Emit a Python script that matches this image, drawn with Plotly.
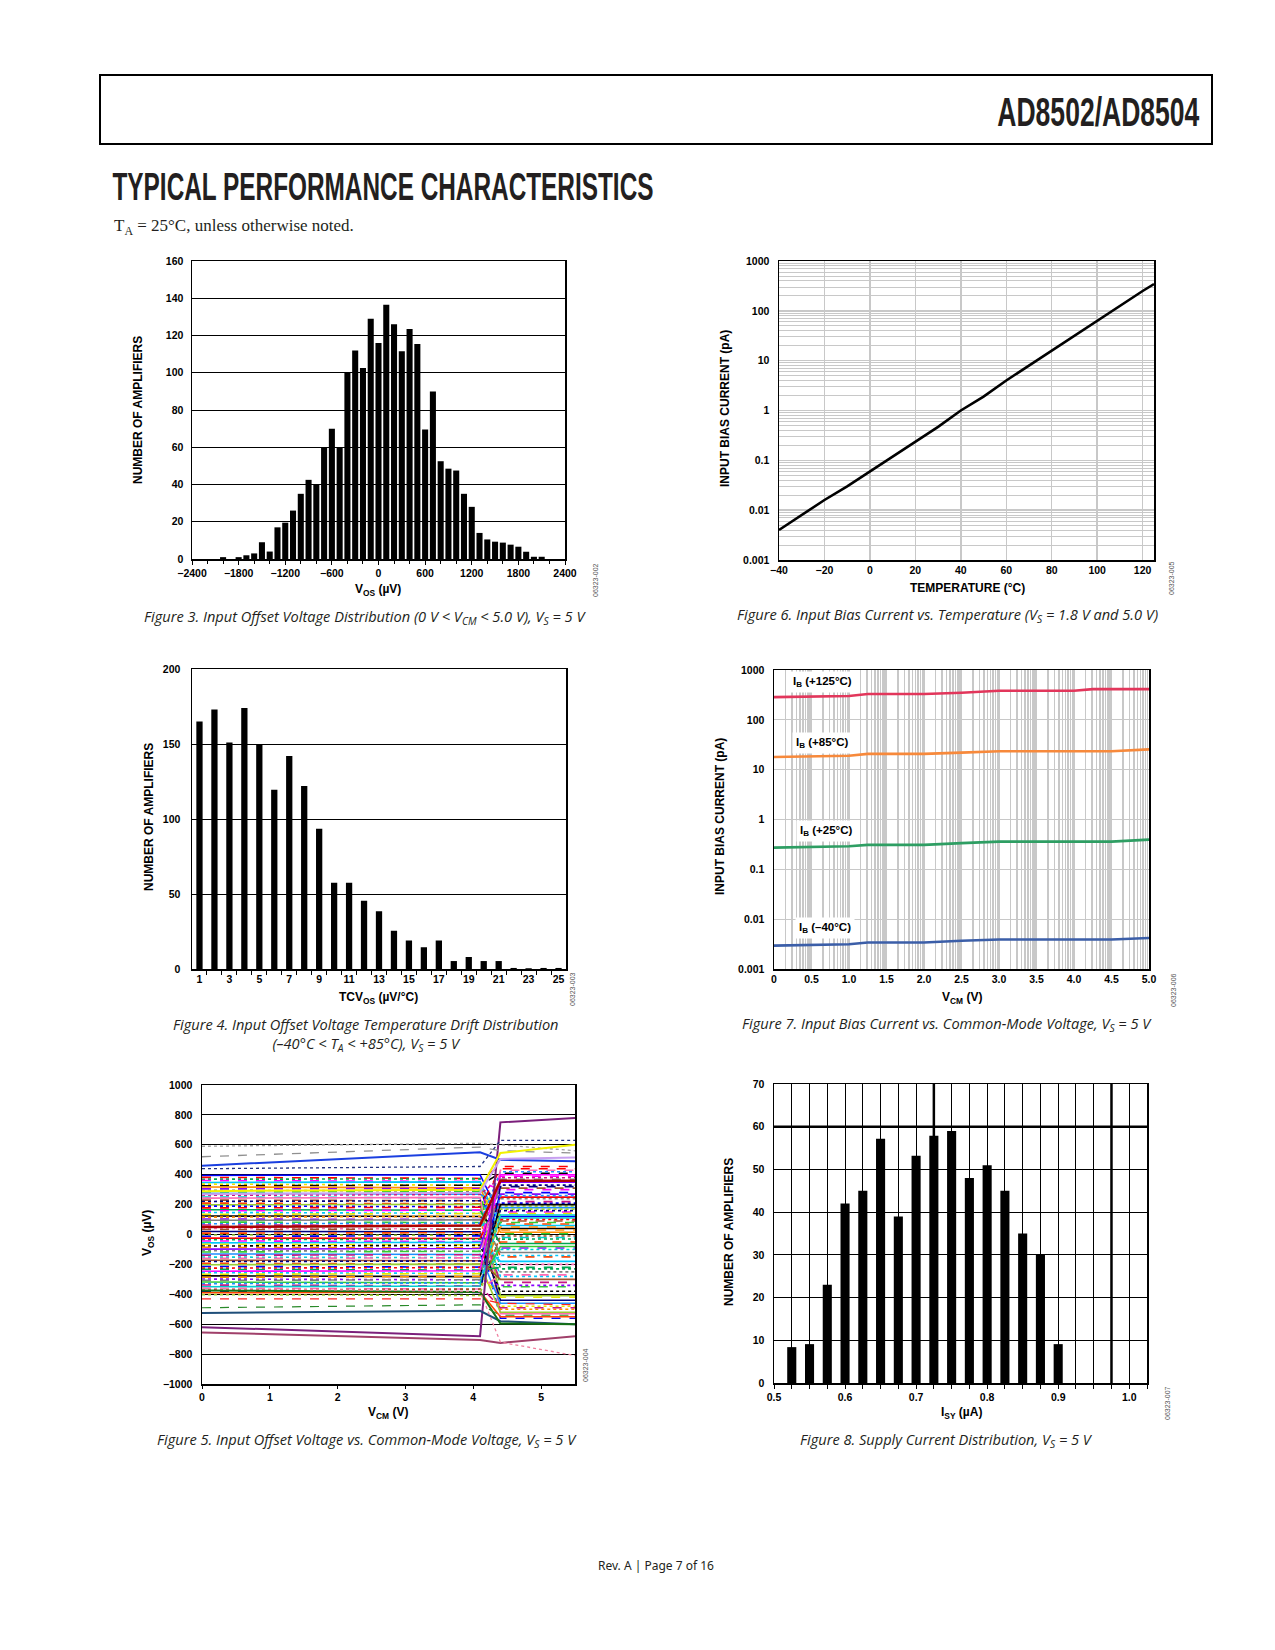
import math
import plotly.graph_objects as go

W, H = 1275, 1650
def PX(x): return x / W
def PY(y): return 1 - y / H

# ---------------- data ----------------
# Figure 3: input offset voltage histogram
VOS_BINS = [-2000, -1900, -1800, -1700, -1600, -1500, -1400, -1300, -1200, -1100, -1000, -900, -800, -700,
            -600, -500, -400, -300, -200, -100, 0, 100, 200, 300, 400, 500, 600, 700, 800, 900, 1000, 1100,
            1200, 1300, 1400, 1500, 1600, 1700, 1800, 1900, 2000, 2100]
VOS_COUNT = [1, 0, 1, 2, 3, 9, 4, 17, 19.5, 26, 35, 42.5, 40, 60, 70, 60, 100, 112, 102.5, 129, 116, 136.5,
             126, 111.5, 123.5, 115.5, 69.5, 90, 52.5, 48.5, 47.5, 35, 28, 14, 10.5, 9.3, 8.8, 7.7, 6.6, 3.9, 1.2, 1.2]
VOS_TICKS = [-2400, -1800, -1200, -600, 0, 600, 1200, 1800, 2400]

# Figure 6: input bias current vs temperature
TEMP = [-40, -30, -20, -10, 0, 10, 20, 30, 40, 50, 60, 70, 80, 90, 100, 110, 120, 125]
IB_T = [0.0040, 0.0080, 0.016, 0.030, 0.060, 0.12, 0.24, 0.47, 1.0, 1.9, 4.0, 8.0, 16, 32, 65, 125, 250, 345]
TEMP_TICKS = [-40, -20, 0, 20, 40, 60, 80, 100, 120]
LOG_TICKS = [0.001, 0.01, 0.1, 1, 10, 100, 1000]
LOG_TEXT = ["0.001", "0.01", "0.1", "1", "10", "100", "1000"]

# Figure 4: TCVos histogram
TC_BINS = list(range(1, 26))
TC_COUNT = [165, 173, 151, 174, 150, 119.5, 142, 122, 93.5, 57.5, 57.5, 45.5, 38.5, 25.5, 19, 14.5, 19,
            5.3, 8, 5.3, 5.3, 0.7, 0.5, 0.7, 0.7]
TC_TICKS = [1, 3, 5, 7, 9, 11, 13, 15, 17, 19, 21, 23, 25]

# Figure 7: input bias current vs common-mode voltage
VCM_IB = [0, 1.0, 1.25, 2.0, 2.5, 3.0, 4.0, 4.25, 4.5, 5.0]
IB_125 = [286, 300, 330, 330, 350, 384, 384, 414, 414, 414]
IB_85 = [18, 19, 20.7, 20.7, 22, 23.4, 23.4, 23.4, 23.4, 25.5]
IB_25 = [0.273, 0.29, 0.31, 0.31, 0.335, 0.36, 0.36, 0.36, 0.36, 0.395]
IB_M40 = [0.00295, 0.00314, 0.0034, 0.0034, 0.0037, 0.0039, 0.0039, 0.0039, 0.0039, 0.0042]
VCM_TICKS = [0, 0.5, 1.0, 1.5, 2.0, 2.5, 3.0, 3.5, 4.0, 4.5, 5.0]
VCM_TEXT = ["0", "0.5", "1.0", "1.5", "2.0", "2.5", "3.0", "3.5", "4.0", "4.5", "5.0"]

# Figure 5: Vos vs Vcm (many units); values at VCM = 0, 4.1, 4.4, 5.5 V
VCM_PTS = [0, 4.1, 4.4, 5.5]
SPECIAL_Y = [
    [-620, -680, 750, 780],
    [-655, -705, -725, -680],
    [460, 550, 500, 490],
    [-525, -510, -580, -600],
    [-375, -385, -595, -600],
    [520, 585, 560, 545],
    [590, 610, 600, 560],
    [440, 455, 630, 630],
    [290, 300, 545, 600],
    [-360, -380, -720, -810],
    [50, 60, 360, 360],
    [270, 280, 505, 515],
    [-490, -470, -540, -540],
    [-430, -430, -460, -470],
]
G0 = [395, 382, 370, 361, 348, 337, 326, 318, 305, 296, 284, 275, 262, 251, 243, 230, 221, 210, 198, 190,
      178, 166, 158, 147, 135, 124, 116, 104, 95, 83, 72, 64, 52, 41, 33, 20, 9, -3, -12, -24, -35, -43,
      -56, -65, -77, -86, -98, -108, -117, -130, -139, -151, -160, -172, -181, -193, -202, -214, -225, -233,
      -246, -255, -266, -277, -286, -298, -307, -318, -329, -338, -350, -359, -371, -382, -390, -402]
G41 = [400, 375, 372, 355, 352, 330, 330, 312, 308, 290, 288, 270, 268, 245, 248, 226, 226, 205, 202, 186,
       182, 162, 163, 142, 140, 120, 121, 100, 99, 80, 76, 60, 57, 38, 36, 18, 12, -6, -9, -27, -31, -47,
       -52, -69, -73, -90, -94, -112, -113, -134, -135, -155, -156, -176, -177, -197, -198, -218, -221, -238,
       -242, -260, -262, -282, -281, -303, -302, -323, -324, -344, -344, -365, -365, -388, -384, -408]
G55 = [120, 455, -230, 300, 60, -480, 410, 15, -90, 240, -350, 180, 380, -20, -530, 90, 330, -150, -410, 210,
       440, -60, 150, -280, 360, 40, -500, 270, -120, 5, 420, -320, 110, -200, 310, -440, 70, 190, -560, 250,
       -30, 390, -180, 140, -380, 30, 350, -250, 80, -460, 220, -100, 430, -300, 160, -50, -520, 280, 100, -220,
       400, -140, -420, 200, 50, -340, 370, -80, 260, -490, 130, -270, -10, 320, -550, 170]
VOS5_TICKS = [-1000, -800, -600, -400, -200, 0, 200, 400, 600, 800, 1000]

# Figure 8: supply current histogram
ISY_BINS = [0.525, 0.55, 0.575, 0.6, 0.625, 0.65, 0.675, 0.7, 0.725, 0.75, 0.775, 0.8, 0.825, 0.85, 0.875, 0.9]
ISY_COUNT = [8.4, 9.1, 23, 42, 45, 57.2, 39, 53.2, 57.9, 59, 48, 51, 45, 35, 30, 9.1]
ISY_TICKS = [0.5, 0.6, 0.7, 0.8, 0.9, 1.0]
ISY_TEXT = ["0.5", "0.6", "0.7", "0.8", "0.9", "1.0"]
ISY_MINOR = [0.525, 0.55, 0.575, 0.625, 0.65, 0.675, 0.725, 0.75, 0.775, 0.825, 0.85, 0.875,
             0.925, 0.95, 0.975, 1.025]
THICK_GRID_X = [0.725, 0.975]
THICK_GRID_Y = [60]

# ---------------- styles ----------------
TICKFONT = dict(family="Liberation Sans, Arial, sans-serif", size=10.5, color="black", weight="bold")
TITLEFONT = dict(family="Liberation Sans, Arial, sans-serif", size=12, color="black", weight="bold")
CAPFONT = dict(family="Open Sans, sans-serif", size=14.6, color="#231f20", style="italic")
GRAY = "#c8c8c8"
PALETTE = ["#0000ff", "#ff0000", "#00a651", "#ff00ff", "#00c8ff", "#e6e600", "#000000", "#ff8c00",
           "#8b00ff", "#808080", "#32cd32", "#1e90ff", "#c71585", "#00ced1", "#ff69b4", "#a0522d",
           "#000080", "#ff4500", "#9acd32"]
DASHES = ["solid", "dash", "dot", "dash", "solid", "dot", "dash"]
SPECIAL_STYLE = [("#7b1f7b", "solid", 2), ("#a0406a", "solid", 2), ("#1a3fe0", "solid", 2),
                 ("#1f4e79", "solid", 2), ("#157015", "solid", 2), ("#909090", "dash", 1.3),
                 ("#a0a0a0", "dot", 1.3), ("#203080", "dot", 1.3), ("#f2f200", "solid", 2),
                 ("#f080a0", "dot", 1.3), ("#b00000", "solid", 2.5), ("#c8a0f0", "solid", 2),
                 ("#2a8a2a", "dash", 1.2), ("#ff2020", "dash", 1.2)]


def dom(x0, x1, y0, y1):
    return [PX(x0), PX(x1)], [PY(y1), PY(y0)]


def base_axis(**kw):
    d = dict(showline=True, linecolor="black", linewidth=1.5, mirror=True, tickfont=TICKFONT,
             zeroline=False, showgrid=False, ticks="", fixedrange=True, automargin=False)
    d.update(kw)
    return d


fig = go.Figure()

# Figure 3
fig.add_trace(go.Bar(x=VOS_BINS, y=VOS_COUNT, width=78, marker=dict(color="black", line=dict(width=0)),
                     xaxis="x", yaxis="y"))
# Figure 6
fig.add_trace(go.Scatter(x=TEMP, y=IB_T, mode="lines", line=dict(color="black", width=2.6),
                         xaxis="x2", yaxis="y2"))
# Figure 4
fig.add_trace(go.Bar(x=TC_BINS, y=TC_COUNT, width=0.42, marker=dict(color="black", line=dict(width=0)),
                     xaxis="x3", yaxis="y3"))
# Figure 7
for ys, col in [(IB_125, "#e2365b"), (IB_85, "#f7893b"), (IB_25, "#2e9e63"), (IB_M40, "#3b5ea8")]:
    fig.add_trace(go.Scatter(x=VCM_IB, y=ys, mode="lines", line=dict(color=col, width=2.6),
                             xaxis="x4", yaxis="y4"))
# Figure 5
for i in range(len(G0)):
    fig.add_trace(go.Scatter(x=VCM_PTS, y=[G0[i], G41[i], G55[i], G55[i]], mode="lines",
                             line=dict(color=PALETTE[i % len(PALETTE)], dash=DASHES[i % len(DASHES)], width=1.6),
                             xaxis="x5", yaxis="y5"))
for ys, (col, dsh, wd) in zip(SPECIAL_Y, SPECIAL_STYLE):
    fig.add_trace(go.Scatter(x=VCM_PTS, y=ys, mode="lines", line=dict(color=col, dash=dsh, width=wd),
                             xaxis="x5", yaxis="y5"))
# Figure 8
fig.add_trace(go.Bar(x=ISY_BINS, y=ISY_COUNT, width=0.0128, marker=dict(color="black", line=dict(width=0)),
                     xaxis="x6", yaxis="y6"))

d3x, d3y = dom(192, 565, 261, 559)
d6x, d6y = dom(779, 1154, 261, 560)
d4x, d4y = dom(192, 566, 669, 969)
d7x, d7y = dom(774, 1149, 670, 969)
d5x, d5y = dom(202, 575, 1085, 1384)
d8x, d8y = dom(774, 1147, 1084, 1383)

minor_log = [k * 10 ** e for e in range(-3, 3) for k in range(2, 10)]
minor_vcm = [0.5 * (i + math.log10(k)) for i in range(10) for k in range(2, 10)]

fig.update_layout(
    template="none",
    width=W, height=H, autosize=False,
    margin=dict(l=0, r=0, t=0, b=0, pad=0, autoexpand=False),
    paper_bgcolor="white", plot_bgcolor="white",
    showlegend=False, barmode="overlay",
    xaxis=base_axis(domain=d3x, anchor="y", range=[-2400, 2400], tickvals=VOS_TICKS, ticks="outside",
                    ticklen=4, tickcolor="black",
                    minor=dict(tickvals=[v for v in range(-2200, 2400, 200) if v % 600 != 0],
                               ticks="outside", ticklen=3, tickcolor="black")),
    yaxis=base_axis(domain=d3y, anchor="x", range=[0, 160], tickvals=list(range(0, 161, 20)),
                    showgrid=True, gridcolor="black", gridwidth=1, ticklabelstandoff=5),
    xaxis2=base_axis(domain=d6x, anchor="y2", range=[-40, 125], tickvals=TEMP_TICKS, showgrid=True,
                     gridcolor=GRAY, gridwidth=1.5),
    yaxis2=base_axis(domain=d6y, anchor="x2", type="log", range=[-3, 3], tickvals=LOG_TICKS, ticktext=LOG_TEXT,
                     showgrid=True, gridcolor=GRAY, gridwidth=1.5, ticklabelstandoff=6,
                     minor=dict(tickvals=minor_log, showgrid=True, gridcolor=GRAY, gridwidth=1, ticks="")),
    xaxis3=base_axis(domain=d4x, anchor="y3", range=[0.5, 25.5], tickvals=TC_TICKS,
                     minor=dict(tickvals=[v + 0.5 for v in range(1, 25)], ticks="outside", ticklen=4,
                                tickcolor="black")),
    yaxis3=base_axis(domain=d4y, anchor="x3", range=[0, 200], tickvals=[0, 50, 100, 150, 200],
                     showgrid=True, gridcolor="black", gridwidth=1, ticklabelstandoff=8),
    xaxis4=base_axis(domain=d7x, anchor="y4", range=[0, 5], tickvals=VCM_TICKS, ticktext=VCM_TEXT,
                     showgrid=True, gridcolor=GRAY, gridwidth=1.5,
                     minor=dict(tickvals=minor_vcm, showgrid=True, gridcolor=GRAY, gridwidth=1.5, ticks="")),
    yaxis4=base_axis(domain=d7y, anchor="x4", type="log", range=[-3, 3], tickvals=LOG_TICKS, ticktext=LOG_TEXT,
                     showgrid=True, gridcolor=GRAY, gridwidth=1.2, ticklabelstandoff=6),
    xaxis5=base_axis(domain=d5x, anchor="y5", range=[0, 5.5], tickvals=[0, 1, 2, 3, 4, 5], ticks="outside",
                     ticklen=3, tickcolor="black"),
    yaxis5=base_axis(domain=d5y, anchor="x5", range=[-1000, 1000], tickvals=VOS5_TICKS, showgrid=True,
                     gridcolor="black", gridwidth=1, ticklabelstandoff=6),
    xaxis6=base_axis(domain=d8x, anchor="y6", range=[0.5, 1.025], tickvals=ISY_TICKS, ticktext=ISY_TEXT,
                     showgrid=True, gridcolor="black", gridwidth=1, ticks="outside", ticklen=4, tickcolor="black",
                     minor=dict(tickvals=ISY_MINOR, showgrid=True, gridcolor="black", gridwidth=1,
                                ticks="outside", ticklen=4, tickcolor="black")),
    yaxis6=base_axis(domain=d8y, anchor="x6", range=[0, 70], tickvals=list(range(0, 71, 10)), showgrid=True,
                     gridcolor="black", gridwidth=1, ticklabelstandoff=6),
)

shapes = [dict(type="rect", xref="paper", yref="paper", x0=PX(100), x1=PX(1212), y0=PY(144), y1=PY(75),
               line=dict(color="black", width=2), fillcolor="rgba(0,0,0,0)")]
for gx in THICK_GRID_X:
    shapes.append(dict(type="line", xref="x6", yref="y6", x0=gx, x1=gx, y0=0, y1=70, layer="below",
                       line=dict(color="black", width=2.5)))
for gy in THICK_GRID_Y:
    shapes.append(dict(type="line", xref="x6", yref="y6", x0=0.5, x1=1.025, y0=gy, y1=gy, layer="below",
                       line=dict(color="black", width=2.5)))
fig.update_layout(shapes=shapes)

ann = []
def text(x, y, s, font, xanchor="center", angle=0, **kw):
    ann.append(dict(x=PX(x), y=PY(y), xref="paper", yref="paper", text=s, showarrow=False, font=font,
                    xanchor=xanchor, yanchor="middle", textangle=angle, **kw))

HEADFONT = dict(family="Liberation Sans, Arial, sans-serif", size=40, color="#231f20", weight="bold")
text(1098, 112, "AD8502/AD8504", HEADFONT)
text(383, 186, "TYPICAL PERFORMANCE CHARACTERISTICS", dict(HEADFONT, size=39))
text(112, 227, "T<sub>A</sub> = 25°C, unless otherwise noted.",
     dict(family="Liberation Serif, Times New Roman, serif", size=17, color="#231f20"), xanchor="left")

# axis titles
text(138, 410, "NUMBER OF AMPLIFIERS", TITLEFONT, angle=-90)
text(378, 590, "V<sub>OS</sub> (µV)", TITLEFONT)
text(725, 409, "INPUT BIAS CURRENT (pA)", TITLEFONT, angle=-90)
text(967, 588, "TEMPERATURE (°C)", TITLEFONT)
text(149, 817, "NUMBER OF AMPLIFIERS", TITLEFONT, angle=-90)
text(378, 998, "TCV<sub>OS</sub> (µV/°C)", TITLEFONT)
text(720, 817, "INPUT BIAS CURRENT (pA)", TITLEFONT, angle=-90)
text(962, 998, "V<sub>CM</sub> (V)", TITLEFONT)
text(148, 1233, "V<sub>OS</sub> (µV)", TITLEFONT, angle=-90)
text(388, 1413, "V<sub>CM</sub> (V)", TITLEFONT)
text(729, 1232, "NUMBER OF AMPLIFIERS", TITLEFONT, angle=-90)
text(961, 1413, "I<sub>SY</sub> (µA)", TITLEFONT)

# curve labels fig 7
LBLFONT = dict(family="Liberation Sans, Arial, sans-serif", size=11.5, color="black", weight="bold")
for (lx, ly, s) in [(789, 682, "I<sub>B</sub> (+125°C)"), (792, 743, "I<sub>B</sub> (+85°C)"),
                    (796, 831, "I<sub>B</sub> (+25°C)"), (795, 928, "I<sub>B</sub> (–40°C)")]:
    text(lx, ly, s, LBLFONT, xanchor="left", bgcolor="white", borderpad=3)

# watermarks
WMFONT = dict(family="Liberation Sans, Arial, sans-serif", size=7, color="#555555")
for (wx, wy, s) in [(595, 580, "06323-002"), (1171, 578, "06323-005"), (572, 989, "06323-003"),
                    (1173, 990, "06323-006"), (585, 1365, "06323-004"), (1167, 1403, "06323-007")]:
    text(wx, wy, s, WMFONT, angle=-90)

# captions
text(365, 617, "Figure 3. Input Offset Voltage Distribution (0 V &lt; V<sub>CM</sub> &lt; 5.0 V), V<sub>S</sub> = 5 V", CAPFONT)
text(947, 615, "Figure 6. Input Bias Current vs. Temperature (V<sub>S</sub> = 1.8 V and 5.0 V)", CAPFONT)
text(366, 1034, "Figure 4. Input Offset Voltage Temperature Drift Distribution<br>(–40°C &lt; T<sub>A</sub> &lt; +85°C), V<sub>S</sub> = 5 V", CAPFONT)
text(947, 1024, "Figure 7. Input Bias Current vs. Common-Mode Voltage, V<sub>S</sub> = 5 V", CAPFONT)
text(367, 1440, "Figure 5. Input Offset Voltage vs. Common-Mode Voltage, V<sub>S</sub> = 5 V", CAPFONT)
text(946, 1440, "Figure 8. Supply Current Distribution, V<sub>S</sub> = 5 V", CAPFONT)

text(656, 1565, "Rev. A | Page 7 of 16", dict(family="Noto Sans, Open Sans, sans-serif", size=12, color="#231f20"))

fig.update_layout(annotations=ann)

# condense the two headings (the original uses a condensed typeface)
POST = """
document.body.style.margin='0px';
document.body.style.overflow='hidden';
var fits = {'AD8502/AD8504': 202, 'TYPICAL PERFORMANCE CHARACTERISTICS': 541};
document.querySelectorAll('text.annotation-text').forEach(function(t){
  var k = t.textContent;
  if (fits[k]) { t.setAttribute('textLength', fits[k]); t.setAttribute('lengthAdjust', 'spacingAndGlyphs'); }
});
"""

fig.write_html("out.html", config={"displayModeBar": False, "staticPlot": True}, post_script=POST)
